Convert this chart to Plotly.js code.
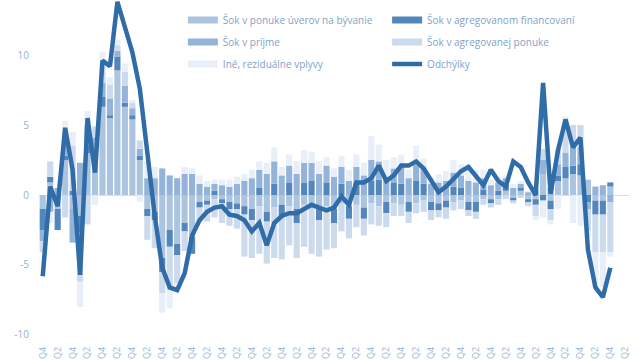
<!DOCTYPE html>
<html><head><meta charset="utf-8">
<script src="https://cdn.plot.ly/plotly-3.0.1.min.js"></script>
<style>html,body{margin:0;padding:0;background:#fff}#chart{width:640px;height:360px}</style>
</head><body><div id="chart"></div>
<script>
// quarters 2004Q4 .. 2024Q2 (79 categories on the axis, data for the first 77)
const firstYear = 2004;
const quarters = [];
for (let k = 0; k < 79; k++) { const q = (3 + k) % 4 + 1; const y = firstYear + Math.floor((3 + k) / 4); quarters.push(y + 'Q' + q); }
const tickQuarters = quarters.filter((_, k) => k % 2 === 0);
const tickLabels = tickQuarters.map(s => s.slice(4));

const odchylky = [-5.8,0.6,-0.8,4.8,1.8,-5.7,5.5,1.6,9.6,9.2,13.8,12.0,10.2,7.6,3.0,-1.5,-5.2,-6.6,-6.8,-5.6,-2.9,-1.8,-1.2,-0.9,-0.8,-1.4,-1.5,-1.8,-2.6,-2.0,-3.6,-2.0,-1.5,-1.3,-1.3,-1.0,-0.7,-0.9,-1.1,-0.9,-0.1,-0.7,0.9,0.9,1.2,2.1,1.0,1.4,2.1,2.1,2.4,1.9,1.0,0.2,0.6,1.2,1.7,2.0,1.4,0.7,1.8,1.0,0.6,2.4,2.0,0.9,0.0,8.0,0.1,3.2,5.4,3.4,4.1,-3.9,-6.6,-7.3,-5.2];

const sokUvery = [-1.0,0.9,-1.0,2.5,-1.0,-1.5,3.0,2.5,6.3,5.5,8.9,6.3,5.4,2.5,-1.0,-1.2,-4.5,-2.5,-3.5,-2.0,-3.0,-0.5,-0.4,-0.3,-0.3,-0.5,-0.6,-0.8,-1.0,-0.8,-1.2,-0.9,-0.7,-0.8,-1.0,-0.7,-0.8,-1.0,-0.8,-1.0,-0.6,-0.8,-0.7,-0.9,-0.6,-0.8,-0.5,-0.6,-0.7,-0.5,-0.6,-0.4,-0.5,-0.6,-0.4,-0.5,-0.4,-0.5,-0.5,-0.3,-0.3,-0.3,0.3,-0.2,0.3,-0.3,-0.3,1.5,-0.4,1.0,1.2,1.5,1.4,1.1,-0.4,-0.4,0.6];
const sokFinancovanie = [-1.5,0.4,-1.5,0.3,0.3,-1.2,0.5,0.4,0.7,0.2,1.0,0.3,0.3,0.3,-0.5,-0.6,-1.0,-1.2,-0.8,-0.6,-1.2,-0.4,-0.3,0.3,-0.3,-0.5,-0.4,-0.6,-0.8,0.5,-0.7,0.8,-0.9,0.9,-1.0,0.9,1.0,-0.8,0.9,-1.0,0.8,-0.9,0.9,-0.8,1.0,1.1,-0.8,0.9,0.8,-0.7,1.0,0.8,-0.6,-0.5,-0.5,0.6,0.5,-0.6,-0.7,0.4,-0.3,0.3,0.5,-0.2,0.2,-0.2,-0.4,-0.4,-0.6,0.4,0.8,0.6,0.8,-0.5,-1.0,-1.0,0.3];
const sokPrijem = [-0.8,-1.2,0.5,1.5,-2.4,2.3,1.5,1.2,1.0,1.2,0.4,1.2,0.5,0.5,1.2,1.2,1.9,1.4,1.2,1.5,1.5,0.8,0.6,0.5,0.7,0.6,0.8,1.0,1.2,1.3,1.5,1.6,1.4,1.2,1.5,1.4,1.3,1.5,1.2,1.3,1.2,1.0,1.1,1.4,1.5,1.3,1.3,1.0,1.2,1.2,1.2,1.1,0.8,0.9,1.0,1.0,0.9,1.0,0.9,0.8,0.7,0.6,0.4,0.5,0.3,0.2,0.3,1.0,0.5,0.8,1.0,1.3,1.2,-0.5,0.6,0.7,-0.5];
const sokPonuka = [-0.8,1.1,0.0,-1.6,3.2,-3.5,-2.1,0.8,1.2,1.0,0.4,1.0,0.4,0.6,-1.7,-2.0,-1.5,-3.1,-2.0,-1.4,0.0,-1.0,-1.2,-1.3,-1.4,-1.2,-1.4,-3.0,-2.7,-3.4,-3.0,-3.6,-3.0,-2.8,-2.5,-3.0,-3.4,-2.6,-3.1,-1.8,-2.0,-1.4,-1.6,-1.2,-1.5,-1.4,-1.0,-0.9,-0.8,-0.8,-0.7,-0.8,-0.7,-0.5,-0.8,-0.6,-0.6,-0.4,-0.5,-0.4,-0.3,-0.4,-0.3,-0.2,-0.2,-0.3,-0.8,0.8,-0.8,1.0,2.0,1.6,1.6,-1.5,-2.7,-2.7,-3.6];
const ineVplyvy = [0.0,-0.8,0.0,1.0,1.0,-1.8,1.0,-0.7,1.0,0.5,0.4,0.6,0.2,-0.5,1.2,0.8,-1.4,-1.3,-0.5,0.5,0.4,0.6,0.4,0.3,0.4,0.5,0.5,0.5,0.6,0.6,0.8,1.0,0.6,0.8,0.9,0.9,0.8,0.9,0.6,0.6,0.8,0.8,0.9,0.9,1.7,1.2,1.2,0.8,0.9,0.6,1.3,0.7,0.5,0.6,0.7,0.9,0.8,0.9,0.9,0.6,0.4,0.4,0.2,0.3,0.2,0.1,-0.3,-1.2,-0.3,-1.0,0.6,-2.0,-2.2,-0.5,-2.5,-2.5,-0.3];

const names = ['Šok v ponuke úverov na bývanie','Šok v agregovanom financovaní','Šok v príjme','Šok v agregovanej ponuke','Iné, reziduálne vplyvy','Odchýlky'];
const colors = ['#abc5e1','#5386bb','#93b4d8','#cbdbed','#e8eff8','#2f6ca8'];
const series = [sokUvery, sokFinancovanie, sokPrijem, sokPonuka, ineVplyvy];

const dataX = quarters.slice(0, odchylky.length);
const traces = [];
series.forEach((vals, k) => {
  traces.push({type:'bar', x:dataX, y:vals, name:names[k], marker:{color:colors[k], line:{width:0}}, showlegend:false, hoverinfo:'skip'});
});
traces.push({type:'scatter', mode:'lines', x:dataX, y:odchylky, name:names[5], line:{color:colors[5], width:4.5}, showlegend:false, hoverinfo:'skip'});

// legend entries (one legend per entry, laid out in two columns)
const legendIds = ['legend','legend2','legend3','legend4','legend5','legend6'];
names.forEach((nm, k) => {
  traces.push({type:'scatter', mode:'lines', x:[null], y:[null], name:nm, legend:legendIds[k],
    line:{color:colors[k], width: k === 5 ? 4.5 : 7}, hoverinfo:'skip'});
});

const W = 640, H = 360, ml = 39.3, mr = 11.4, mt = 0, mb = 19;
const pw = W - ml - mr, ph = H - mt - mb;
const px = p => (p - ml) / pw;
const py = p => 1 - (p - mt) / ph;
const colL = [183, 387];
const rowTop = [5.5, 27.5, 49.5];
const legFont = {family:'Open Sans, sans-serif', size:10, color:'#7fa2c9'};
const layout = {
  width:W, height:H,
  margin:{l:ml, r:mr, t:mt, b:mb, pad:0},
  paper_bgcolor:'#ffffff', plot_bgcolor:'#ffffff',
  font:{family:'Open Sans, sans-serif', size:10, color:'#94b3d4'},
  barmode:'relative', bargap:0.18,
  showlegend:true,
  xaxis:{type:'category', categoryarray:quarters, categoryorder:'array', range:[-0.5, quarters.length - 0.5],
    tickmode:'array', tickvals:tickQuarters, ticktext:tickLabels, tickangle:-90,
    tickfont:{size:9, color:'#94b3d4'}, showgrid:false, showline:false, zeroline:false, ticks:'', ticklabelstandoff:3},
  yaxis:{range:[-10.43, 13.93], tickmode:'array', tickvals:[-10,-5,0,5,10], ticktext:['-10','-5','0','5','10'],
    tickfont:{size:10, color:'#94b3d4'}, showgrid:false, showline:false, ticks:'',
    zeroline:true, zerolinecolor:'#d3e0ee', zerolinewidth:1, ticklabelstandoff:9},
};
legendIds.forEach((id, k) => {
  const col = k % 2, row = Math.floor(k / 2);
  layout[id] = {x:px(colL[col]), y:py(rowTop[row]), xanchor:'left', yanchor:'top', orientation:'h',
    bgcolor:'rgba(0,0,0,0)', borderwidth:0, font:legFont, itemclick:false, itemdoubleclick:false};
});
Plotly.newPlot('chart', traces, layout, {staticPlot:true, displayModeBar:false});
</script>
</body></html>
